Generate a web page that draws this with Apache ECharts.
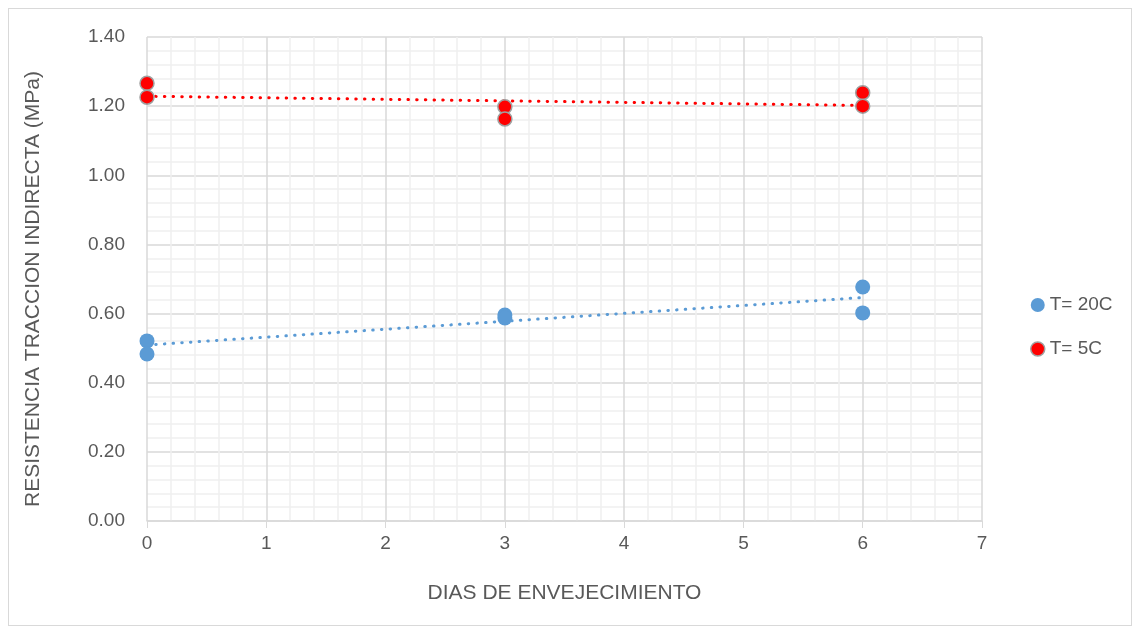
<!DOCTYPE html>
<html>
<head>
<meta charset="utf-8">
<script src="https://cdn.jsdelivr.net/npm/echarts@6/dist/echarts.min.js"></script>
<style>
html,body{margin:0;padding:0;background:#fff;}
#wrap{position:absolute;left:0;top:0;width:1141px;height:635px;}
#frame{position:absolute;left:8px;top:8px;width:1124px;height:618px;border:1px solid #d9d9d9;box-sizing:border-box;}
#chart{position:absolute;left:0;top:0;width:1141px;height:635px;}
</style>
</head>
<body>
<div id="wrap"><div id="frame"></div><div id="chart"></div></div>
<script>
// Data
var seriesNames = ['T= 20C', 'T= 5C'];
var daysT20 = [0, 0, 3, 3, 6, 6];
var valuesT20 = [0.521, 0.483, 0.596, 0.587, 0.677, 0.602];
var daysT5 = [0, 0, 3, 3, 6, 6];
var valuesT5 = [1.266, 1.226, 1.198, 1.163, 1.239, 1.200];
var xTickLabels = ['0', '1', '2', '3', '4', '5', '6', '7'];
var yTickLabels = ['0.00', '0.20', '0.40', '0.60', '0.80', '1.00', '1.20', '1.40'];
var xTitle = 'DIAS DE ENVEJECIMIENTO';
var yTitle = 'RESISTENCIA TRACCION INDIRECTA (MPa)';

function pairs(xs, ys) { return xs.map(function (x, i) { return [x, ys[i]]; }); }
function linearTrend(xs, ys) {
  var n = xs.length, sx = 0, sy = 0, sxx = 0, sxy = 0;
  for (var i = 0; i < n; i++) { sx += xs[i]; sy += ys[i]; sxx += xs[i] * xs[i]; sxy += xs[i] * ys[i]; }
  var b = (n * sxy - sx * sy) / (n * sxx - sx * sx);
  var a = (sy - b * sx) / n;
  var x0 = Math.min.apply(null, xs), x1 = Math.max.apply(null, xs);
  return [[x0, a + b * x0], [x1, a + b * x1]];
}

var blue = '#5b9bd5', red = '#ff0000';
var font = '"Liberation Sans", Arial, sans-serif';
var chart = echarts.init(document.getElementById('chart'));
chart.setOption({
  animation: false,
  textStyle: { fontFamily: font },
  grid: { left: 147, right: 159, top: 37, bottom: 114, containLabel: false },
  graphic: [{
    type: 'text', x: 33, y: 289, rotation: Math.PI / 2,
    style: { text: yTitle, fontSize: 21, fill: '#595959', fontFamily: font, align: 'center', verticalAlign: 'middle' }
  }],
  legend: {
    orient: 'vertical', left: 1025, top: 290, itemGap: 24,
    itemWidth: 14, itemHeight: 14,
    textStyle: { fontSize: 19, lineHeight: 20, color: '#595959', fontFamily: font },
    data: [
      { name: seriesNames[0], icon: 'circle', itemStyle: { color: blue, borderWidth: 0 } },
      { name: seriesNames[1], icon: 'circle', itemStyle: { color: red, borderColor: '#a0a0a0', borderWidth: 1.5 } }
    ]
  },
  xAxis: {
    type: 'value', min: 0, max: 7, interval: 1,
    name: xTitle, nameLocation: 'middle', nameGap: 62,
    nameTextStyle: { fontSize: 21, color: '#595959', fontFamily: font },
    axisLine: { show: true, lineStyle: { color: '#d9d9d9', width: 1.5 } },
    axisTick: { show: true, length: 7, lineStyle: { color: '#d9d9d9' } },
    axisLabel: { fontSize: 19, color: '#595959', margin: 13, formatter: function (v) { return xTickLabels[Math.round(v)]; } },
    splitLine: { show: true, lineStyle: { color: '#d9d9d9', width: 1.5 } },
    minorTick: { show: false, splitNumber: 5 },
    minorSplitLine: { show: true, lineStyle: { color: '#f0f0f0', width: 1.5 } }
  },
  yAxis: {
    type: 'value', min: 0, max: 1.4, interval: 0.2,
    axisLine: { show: false },
    axisTick: { show: false },
    axisLabel: { fontSize: 19, color: '#595959', margin: 22, formatter: function (v) { return yTickLabels[Math.round(v / 0.2)]; } },
    splitLine: { show: true, lineStyle: { color: '#d9d9d9', width: 1.5 } },
    minorTick: { show: false, splitNumber: 5 },
    minorSplitLine: { show: true, lineStyle: { color: '#f0f0f0', width: 1.5 } }
  },
  series: [
    {
      name: seriesNames[0] + ' trend', type: 'line', data: linearTrend(daysT20, valuesT20),
      symbol: 'none', silent: true, z: 2,
      lineStyle: { color: blue, width: 3, type: [0.5, 8.2], cap: 'round' }
    },
    {
      name: seriesNames[1] + ' trend', type: 'line', data: linearTrend(daysT5, valuesT5),
      symbol: 'none', silent: true, z: 2,
      lineStyle: { color: red, width: 3, type: [0.5, 8.2], cap: 'round' }
    },
    {
      name: seriesNames[0], type: 'scatter', data: pairs(daysT20, valuesT20),
      symbol: 'circle', symbolSize: 15, z: 3,
      itemStyle: { color: blue, opacity: 1 }
    },
    {
      name: seriesNames[1], type: 'scatter', data: pairs(daysT5, valuesT5),
      symbol: 'circle', symbolSize: 14, z: 3,
      itemStyle: { color: red, borderColor: '#a0a0a0', borderWidth: 1.5, opacity: 1 }
    }
  ]
});
</script>
</body>
</html>
